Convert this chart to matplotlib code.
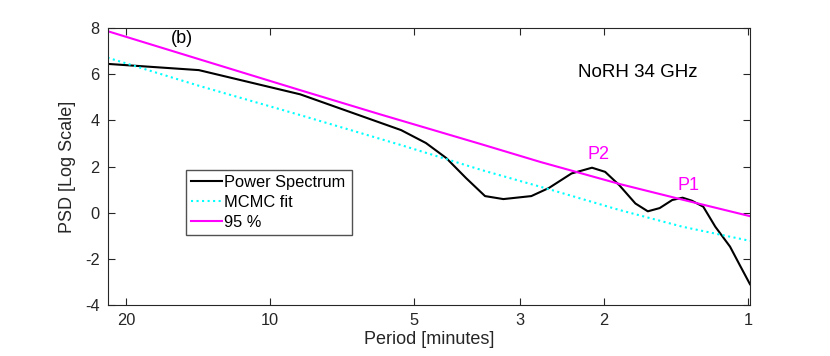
import matplotlib.pyplot as plt

plt.rcParams['font.family'] = ['Liberation Sans', 'DejaVu Sans']
plt.rcParams['axes.unicode_minus'] = False

# periods in minutes, PSD in log scale
spec_period = [21.9, 14.1, 8.65, 5.32, 4.72, 4.28, 3.89, 3.55, 3.25, 2.84, 2.61,
               2.34, 2.12, 1.99, 1.86, 1.72, 1.62, 1.53, 1.44, 1.37, 1.31, 1.24,
               1.17, 1.09, 1.04, 0.99]
spec_psd = [6.45, 6.18, 5.13, 3.58, 3.02, 2.37, 1.5, 0.72, 0.59, 0.72, 1.07,
            1.7, 1.95, 1.77, 1.2, 0.4, 0.06, 0.2, 0.55, 0.65, 0.52, 0.26,
            -0.61, -1.47, -2.27, -3.1]

fit_period = [21.9, 14.04, 8.65, 5.32, 3.61, 2.58, 1.86, 1.37, 0.99]
fit_psd = [6.72, 5.49, 4.23, 2.93, 1.85, 0.99, 0.12, -0.61, -1.22]

conf_period = [21.9, 14.02, 8.65, 5.88, 3.63, 2.72, 1.845, 1.38, 0.99]
conf_psd = [7.87, 6.64, 5.31, 4.26, 2.98, 2.2, 1.23, 0.58, -0.15]

xticks = [20, 10, 5, 3, 2, 1]

fig = plt.figure(figsize=(8.3, 3.56), dpi=100)
ax = fig.add_axes([0.130, 0.1433, 0.7736, 0.7777])

ax.plot(spec_period, spec_psd, color='black', lw=1.5, label='Power Spectrum')
ax.plot(fit_period, fit_psd, color='cyan', lw=1.5, ls=':', label='MCMC fit')
ax.plot(conf_period, conf_psd, color='magenta', lw=1.5, label='95 %')

ax.set_xscale('log')
ax.set_xlim(21.86, 0.99)
ax.set_ylim(-4, 8)
ax.set_xticks(xticks)
ax.set_xticklabels([str(t) for t in xticks])
ax.minorticks_off()
ax.set_yticks(range(-4, 9, 2))

for s in ax.spines.values():
    s.set_color('#262626')
ax.tick_params(direction='in', top=True, right=True, length=5, pad=6,
               colors='#262626', labelsize=11.8)

ax.set_xlabel('Period [minutes]', fontsize=13, color='#262626', labelpad=2)
ax.set_ylabel('PSD [Log Scale]', fontsize=13, color='#262626', labelpad=6)

ax.text(0.115, 0.964, '(b)', transform=ax.transAxes, fontsize=13,
        ha='center', va='center')
ax.text(0.825, 0.84, 'NoRH 34 GHz', transform=ax.transAxes, fontsize=13.5,
        ha='center', va='center')
ax.text(2.05, 2.54, 'P2', color='magenta', fontsize=13, ha='center', va='center')
ax.text(1.33, 1.2, 'P1', color='magenta', fontsize=13, ha='center', va='center')

leg = ax.legend(loc='upper left', bbox_to_anchor=(0.1215, 0.487, 0.2586, 0.0),
                mode='expand', fontsize=11.8, frameon=True, fancybox=False,
                handlelength=1.9, handletextpad=0.15, borderpad=0.3,
                labelspacing=0.3, borderaxespad=0)
leg.get_frame().set_edgecolor('#262626')
leg.get_frame().set_linewidth(1.0)

fig.savefig('out.png', dpi=100)
